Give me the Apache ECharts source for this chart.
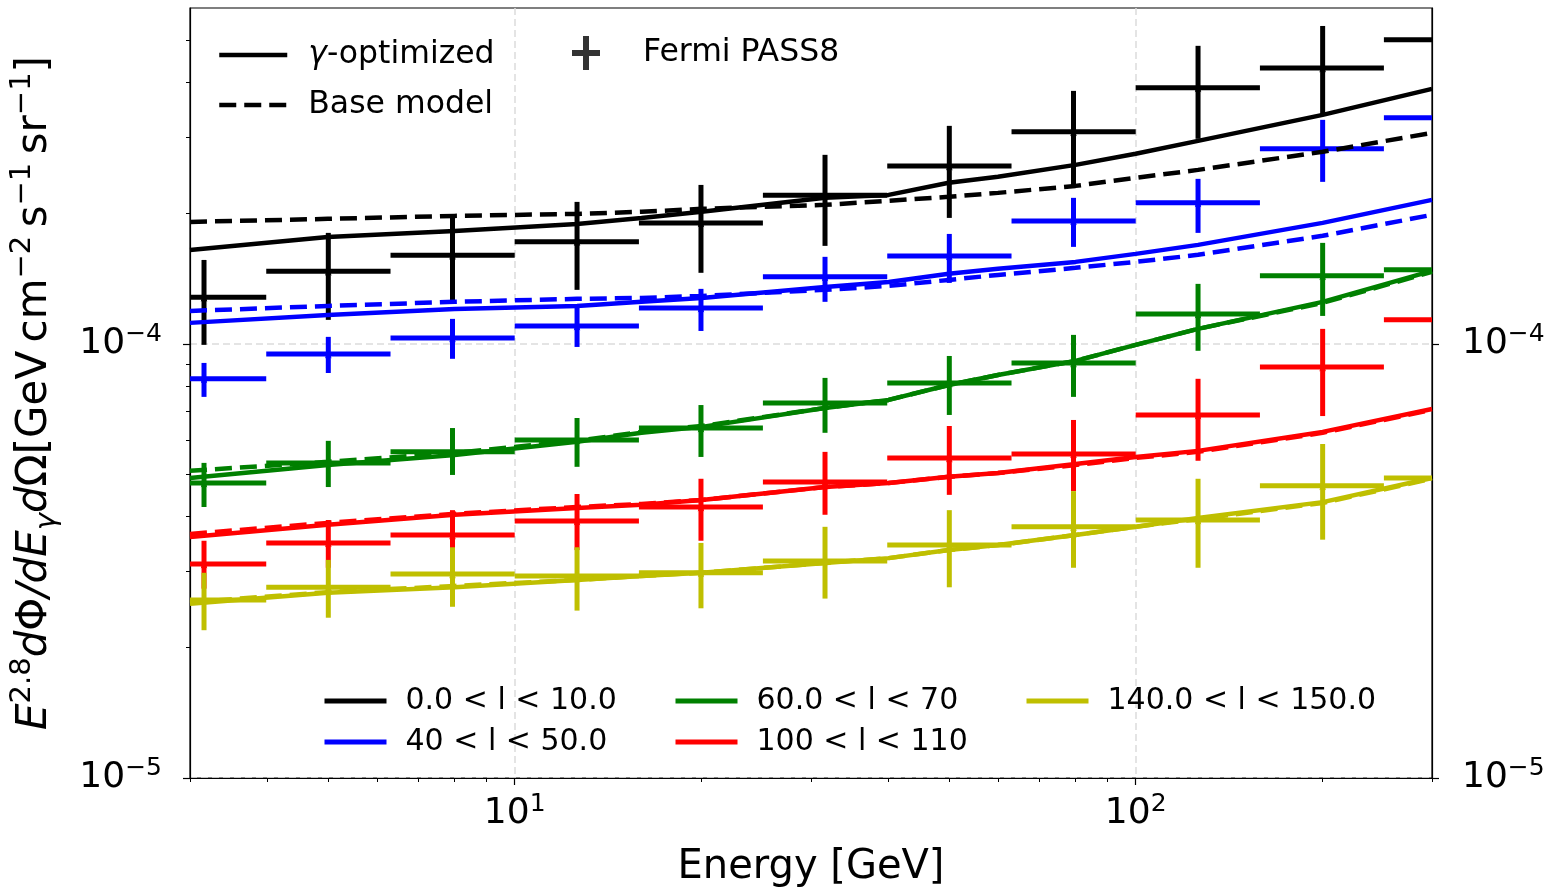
<!DOCTYPE html>
<html><head><meta charset="utf-8">
<script src="https://cdn.jsdelivr.net/npm/echarts@6/dist/echarts.min.js"></script>
<style>html,body{margin:0;padding:0;background:#fff}#c{width:1545px;height:890px}</style>
</head><body><div id="c"></div>
<script>
// ---------- data (flux values in units of 1e-4 GeV cm^-2 s^-1 sr^-1) ----------
const UNIT = 1e-4;
const regionNames = ['0.0 < l < 10.0','40 < l < 50.0','60.0 < l < 70','100 < l < 110','140.0 < l < 150.0'];
const regionColors = ['#000000','#0000ff','#008000','#ff0000','#bfbf00'];

// Fermi energy bins (GeV)
const binCenters = [3.16,5.01,7.94,12.6,19.95,31.6,50.1,79.4,126,200,316];
const binLow     = [2.51,3.98,6.31,10,15.85,25.1,39.8,63.1,100,158.5,251];
const binHigh    = [3.98,6.31,10,15.85,25.1,39.8,63.1,100,158.5,251,398];

// Fermi PASS8 points: centre, lower, upper
const fermiBlack   = [1.28,1.47,1.60,1.72,1.90,2.20,2.57,3.08,3.89,4.32,5.02];
const fermiBlackLo = [0.995,1.136,1.243,1.332,1.458,1.682,1.951,2.312,2.968,3.352,3.9];
const fermiBlackHi = [1.561,1.802,1.983,2.124,2.324,2.726,3.179,3.827,4.86,5.40,6.2];
const fermiBlue    = [0.831,0.948,1.032,1.100,1.210,1.427,1.595,1.920,2.113,2.814,3.317];
const fermiBlueLo  = [0.755,0.857,0.924,0.984,1.071,1.250,1.382,1.673,1.802,2.362,2.85];
const fermiBlueHi  = [0.904,1.038,1.142,1.223,1.339,1.587,1.792,2.170,2.400,3.282,3.85];
const fermiGreen   = [0.478,0.532,0.564,0.601,0.640,0.731,0.813,0.904,1.172,1.435,1.481];
const fermiGreenLo = [0.421,0.468,0.499,0.521,0.549,0.624,0.686,0.755,0.964,1.160,1.2];
const fermiGreenHi = [0.532,0.598,0.640,0.675,0.723,0.835,0.938,1.049,1.375,1.709,1.8];
const fermiRed     = [0.311,0.348,0.363,0.391,0.421,0.481,0.546,0.558,0.686,0.885,1.136];
const fermiRedLo   = [0.273,0.305,0.315,0.335,0.352,0.404,0.449,0.458,0.538,0.682,0.9];
const fermiRedHi   = [0.352,0.393,0.414,0.451,0.489,0.564,0.647,0.668,0.831,1.083,1.4];
const fermiYellow  = [0.257,0.275,0.295,0.292,0.297,0.316,0.344,0.379,0.393,0.471,0.491];
const fermiYellowLo= [0.219,0.234,0.248,0.243,0.246,0.259,0.275,0.305,0.305,0.354,0.38];
const fermiYellowHi= [0.297,0.318,0.340,0.340,0.348,0.379,0.414,0.458,0.489,0.588,0.62];

// model curves
const curveEnergy = [3,5,8,12.6,16,20,31.6,40,50,60,80,100,126,200,300];
const optBlack  = [1.646,1.764,1.820,1.890,1.951,2.015,2.170,2.204,2.350,2.426,2.585,2.741,2.936,3.370,3.869];
const baseBlack = [1.910,1.941,1.972,1.993,2.015,2.047,2.091,2.136,2.182,2.228,2.312,2.413,2.517,2.770,3.063];
const optBlue   = [1.118,1.166,1.204,1.223,1.250,1.276,1.353,1.389,1.450,1.489,1.545,1.612,1.691,1.900,2.147];
const baseBlue  = [1.191,1.223,1.250,1.270,1.276,1.290,1.332,1.360,1.404,1.442,1.497,1.545,1.604,1.774,1.983];
const optGreen  = [0.491,0.526,0.555,0.595,0.624,0.644,0.712,0.743,0.804,0.848,0.914,0.995,1.083,1.250,1.473];
const baseGreen = [0.510,0.535,0.561,0.598,0.627,0.647,0.712,0.743,0.804,0.848,0.914,0.995,1.083,1.243,1.465];
const optRed    = [0.359,0.383,0.404,0.419,0.426,0.437,0.468,0.478,0.494,0.504,0.529,0.549,0.567,0.627,0.708];
const baseRed   = [0.365,0.387,0.406,0.421,0.428,0.437,0.468,0.478,0.494,0.504,0.526,0.546,0.564,0.624,0.705];
const optYellow = [0.252,0.267,0.275,0.286,0.292,0.297,0.313,0.321,0.335,0.344,0.363,0.379,0.397,0.432,0.491];
const baseYellow= [0.254,0.268,0.277,0.286,0.292,0.297,0.313,0.321,0.335,0.344,0.363,0.379,0.395,0.430,0.489];

// axes
const xMin = 3, xMax = 300;
const yMin = 1e-5, yMax = 5.94e-4;
const xMajorTicks = [10, 100];
const xMinorTicks = [3,4,5,6,7,8,9,20,30,40,50,60,70,80,90,200,300];
const yMajorTicks = [1e-5, 1e-4];
const yMinorTicks = [2e-5,3e-5,4e-5,5e-5,6e-5,7e-5,8e-5,9e-5,2e-4,3e-4,4e-4,5e-4];

// ---------- build ----------
const FONT = 'DejaVu Sans';
const CURVE_W = 4.5, BAR_W = 5, DASH = [17, 8];
const fermiSets = [
  [fermiBlack, fermiBlackLo, fermiBlackHi],
  [fermiBlue, fermiBlueLo, fermiBlueHi],
  [fermiGreen, fermiGreenLo, fermiGreenHi],
  [fermiRed, fermiRedLo, fermiRedHi],
  [fermiYellow, fermiYellowLo, fermiYellowHi]
];
const optSets = [optBlack, optBlue, optGreen, optRed, optYellow];
const baseSets = [baseBlack, baseBlue, baseGreen, baseRed, baseYellow];

function curve(vals) { return curveEnergy.map((e, i) => [e, vals[i] * UNIT]); }

function errorbarSeries(idx) {
  const [c, lo, hi] = fermiSets[idx];
  const color = regionColors[idx];
  const data = binCenters.map((e, i) => [e, c[i] * UNIT, binLow[i], binHigh[i], lo[i] * UNIT, hi[i] * UNIT]);
  return {
    type: 'custom', name: 'fermi-' + idx, xAxisIndex: 0, yAxisIndex: 0,
    dimensions: ['x', 'y', 'xl', 'xh', 'yl', 'yh'],
    encode: { x: 0, y: 1 },
    data,
    renderItem(params, api) {
      const cs = params.coordSys;
      const left = cs.x, right = cs.x + cs.width;
      const p = api.coord([api.value(0), api.value(1)]);
      const pl = api.coord([api.value(2), api.value(1)]);
      const ph = api.coord([api.value(3), api.value(1)]);
      const pLo = api.coord([api.value(0), api.value(4)]);
      const pHi = api.coord([api.value(0), api.value(5)]);
      const style = { stroke: color, lineWidth: BAR_W, fill: null };
      const children = [];
      const x1 = Math.max(pl[0], left), x2 = Math.min(ph[0], right);
      if (x2 > x1) children.push({ type: 'line', shape: { x1, y1: p[1], x2, y2: p[1] }, style });
      if (p[0] >= left && p[0] <= right) {
        children.push({ type: 'line', shape: { x1: p[0], y1: pLo[1], x2: p[0], y2: pHi[1] }, style });
        const pts = [];
        for (let k = 0; k < 10; k++) {
          const r = k % 2 === 0 ? 5.5 : 2.3;
          const a = -Math.PI / 2 + k * Math.PI / 5;
          pts.push([p[0] + r * Math.cos(a), p[1] + r * Math.sin(a)]);
        }
        children.push({ type: 'polygon', shape: { points: pts }, style: { fill: color } });
      }
      return { type: 'group', children };
    }
  };
}

const series = [];
for (let i = 0; i < 5; i++) {
  series.push({
    type: 'line', name: regionNames[i], data: curve(optSets[i]), symbol: 'none', smooth: false,
    lineStyle: { color: regionColors[i], width: CURVE_W }, itemStyle: { color: regionColors[i] },
    xAxisIndex: 0, yAxisIndex: 0
  });
  series.push({
    type: 'line', name: regionNames[i] + ' base', data: curve(baseSets[i]), symbol: 'none',
    lineStyle: { color: regionColors[i], width: CURVE_W, type: DASH }, itemStyle: { color: regionColors[i] },
    xAxisIndex: 0, yAxisIndex: 0
  });
  series.push(errorbarSeries(i));
}
// legend-only series
series.push({ type: 'line', name: 'γ-optimized', data: [], symbol: 'none', lineStyle: { color: '#000', width: 4.5 }, itemStyle: { color: '#000' } });
series.push({ type: 'line', name: 'Base model', data: [], symbol: 'none', lineStyle: { color: '#000', width: 4.5, type: DASH }, itemStyle: { color: '#000' } });
series.push({ type: 'scatter', name: 'Fermi PASS8', data: [], itemStyle: { color: '#000' } });

function powLabel(v) {
  const e = Math.round(Math.log10(v));
  return '{b|10}{s|' + (e < 0 ? '\u2212' + (-e) : e) + '}';
}
const tickRich = {
  b: { fontFamily: FONT, fontSize: 36, color: '#000', lineHeight: 44 },
  s: { fontFamily: FONT, fontSize: 25, color: '#000', lineHeight: 26, verticalAlign: 'top' }
};

const plusIcon = 'path://M11,0H17V14H28V20H17V34H11V20H0V14H11Z';
function legendRich(pad) {
  return {
    t: { fontFamily: FONT, fontSize: 31.5, color: '#000', padding: [0, 0, 0, pad] },
    g: { fontFamily: FONT, fontSize: 31.5, color: '#000', fontStyle: 'italic', padding: [0, 0, 0, pad] },
    u: { fontFamily: FONT, fontSize: 31.5, color: '#000' }
  };
}
function bottomLegend(names, left) {
  return {
    orient: 'vertical', left, top: 686, padding: 0, itemWidth: 62, itemHeight: 14, itemGap: 11,
    data: names, selectedMode: false,
    lineStyle: { width: 5 }, itemStyle: { opacity: 0 },
    formatter: n => '{t|' + n + '}',
    textStyle: { rich: { t: { fontFamily: FONT, fontSize: 30, color: '#000', padding: [0, 0, 0, 14] } } }
  };
}

const option = {
  animation: false,
  backgroundColor: '#fff',
  grid: { left: 190, right: 113, top: 8, bottom: 112, show: true, borderColor: '#000', borderWidth: 1.2, containLabel: false, outerBoundsMode: 'none' },
  xAxis: [
    {
      type: 'log', logBase: 10, min: xMin, max: xMax, position: 'bottom', gridIndex: 0,
      axisLine: { show: true, lineStyle: { color: '#000', width: 1.2 } },
      axisTick: { show: true, customValues: xMajorTicks, length: 7, lineStyle: { color: '#000', width: 1.2 } },
      axisLabel: { show: true, customValues: xMajorTicks, formatter: powLabel, rich: tickRich, margin: 14 },
      splitLine: { show: true, lineStyle: { color: '#dcdcdc', width: 1.5, type: [7, 4] } },
      minorTick: { show: false }, minorSplitLine: { show: false },
      name: 'Energy [GeV]', nameLocation: 'middle', nameGap: 70,
      nameTextStyle: { fontFamily: FONT, fontSize: 40, color: '#000' }
    },
    {
      type: 'log', logBase: 10, min: xMin, max: xMax, position: 'bottom', gridIndex: 0,
      axisLine: { show: false },
      axisTick: { show: true, customValues: xMinorTicks, length: 4, lineStyle: { color: '#000', width: 1 } },
      axisLabel: { show: false }, splitLine: { show: false }
    }
  ],
  yAxis: [
    {
      type: 'log', logBase: 10, min: yMin, max: yMax, position: 'left', gridIndex: 0,
      axisLine: { show: true, lineStyle: { color: '#000', width: 1.2 } },
      axisTick: { show: true, customValues: yMajorTicks, length: 7, lineStyle: { color: '#000', width: 1.2 } },
      axisLabel: { show: true, customValues: yMajorTicks, formatter: powLabel, rich: tickRich, margin: 28 },
      splitLine: { show: true, lineStyle: { color: '#dcdcdc', width: 1.5, type: [7, 4] } },
      name: '{i|E}{p|2.8}{i|d}{n|Φ}{i|/dE}{q|γ}{i|d}{n|Ω}{n|[GeV\u2009cm}{p|\u22122}{n|\u2009s}{p|\u22121}{n|\u2009sr}{p|\u22121}{n|]}',
      nameLocation: 'middle', nameRotate: 90, nameGap: 128,
      nameTextStyle: {
        color: '#000',
        rich: {
          i: { fontFamily: FONT, fontSize: 42, fontStyle: 'italic', color: '#000', lineHeight: 54 },
          n: { fontFamily: FONT, fontSize: 42, color: '#000', lineHeight: 54 },
          p: { fontFamily: FONT, fontSize: 29, color: '#000', lineHeight: 31, verticalAlign: 'top' },
          q: { fontFamily: FONT, fontSize: 29, fontStyle: 'italic', color: '#000', lineHeight: 31, verticalAlign: 'bottom' }
        }
      }
    },
    {
      type: 'log', logBase: 10, min: yMin, max: yMax, position: 'right', gridIndex: 0,
      axisLine: { show: true, lineStyle: { color: '#000', width: 1.2 } },
      axisTick: { show: true, customValues: yMajorTicks, length: 7, lineStyle: { color: '#000', width: 1.2 } },
      axisLabel: { show: true, customValues: yMajorTicks, formatter: powLabel, rich: tickRich, margin: 30 },
      splitLine: { show: false }
    },
    {
      type: 'log', logBase: 10, min: yMin, max: yMax, position: 'left', gridIndex: 0,
      axisLine: { show: false },
      axisTick: { show: true, customValues: yMinorTicks, length: 4, lineStyle: { color: '#000', width: 1 } },
      axisLabel: { show: false }, splitLine: { show: false }
    }
  ],
  legend: [
    {
      orient: 'vertical', left: 217, top: 39, padding: 0, itemWidth: 68, itemHeight: 14, itemGap: 18,
      selectedMode: false, data: ['γ-optimized', 'Base model'],
      lineStyle: { width: 4.5 }, itemStyle: { opacity: 0 },
      formatter: n => n === 'γ-optimized' ? '{g|γ}{u|-optimized}' : '{t|' + n + '}',
      textStyle: { rich: legendRich(16) }
    },
    {
      orient: 'vertical', left: 572, top: 36, padding: 0, itemWidth: 28, itemHeight: 34, itemGap: 14,
      selectedMode: false, data: [{ name: 'Fermi PASS8', icon: plusIcon }],
      formatter: n => '{t|' + n + '}',
      textStyle: { rich: legendRich(38) }
    },
    bottomLegend([regionNames[0], regionNames[1]], 322),
    bottomLegend([regionNames[2], regionNames[3]], 673),
    bottomLegend([regionNames[4]], 1024)
  ],
  series
};

const chart = echarts.init(document.getElementById('c'), null, { renderer: 'canvas' });
chart.setOption(option);
</script>
</body></html>
